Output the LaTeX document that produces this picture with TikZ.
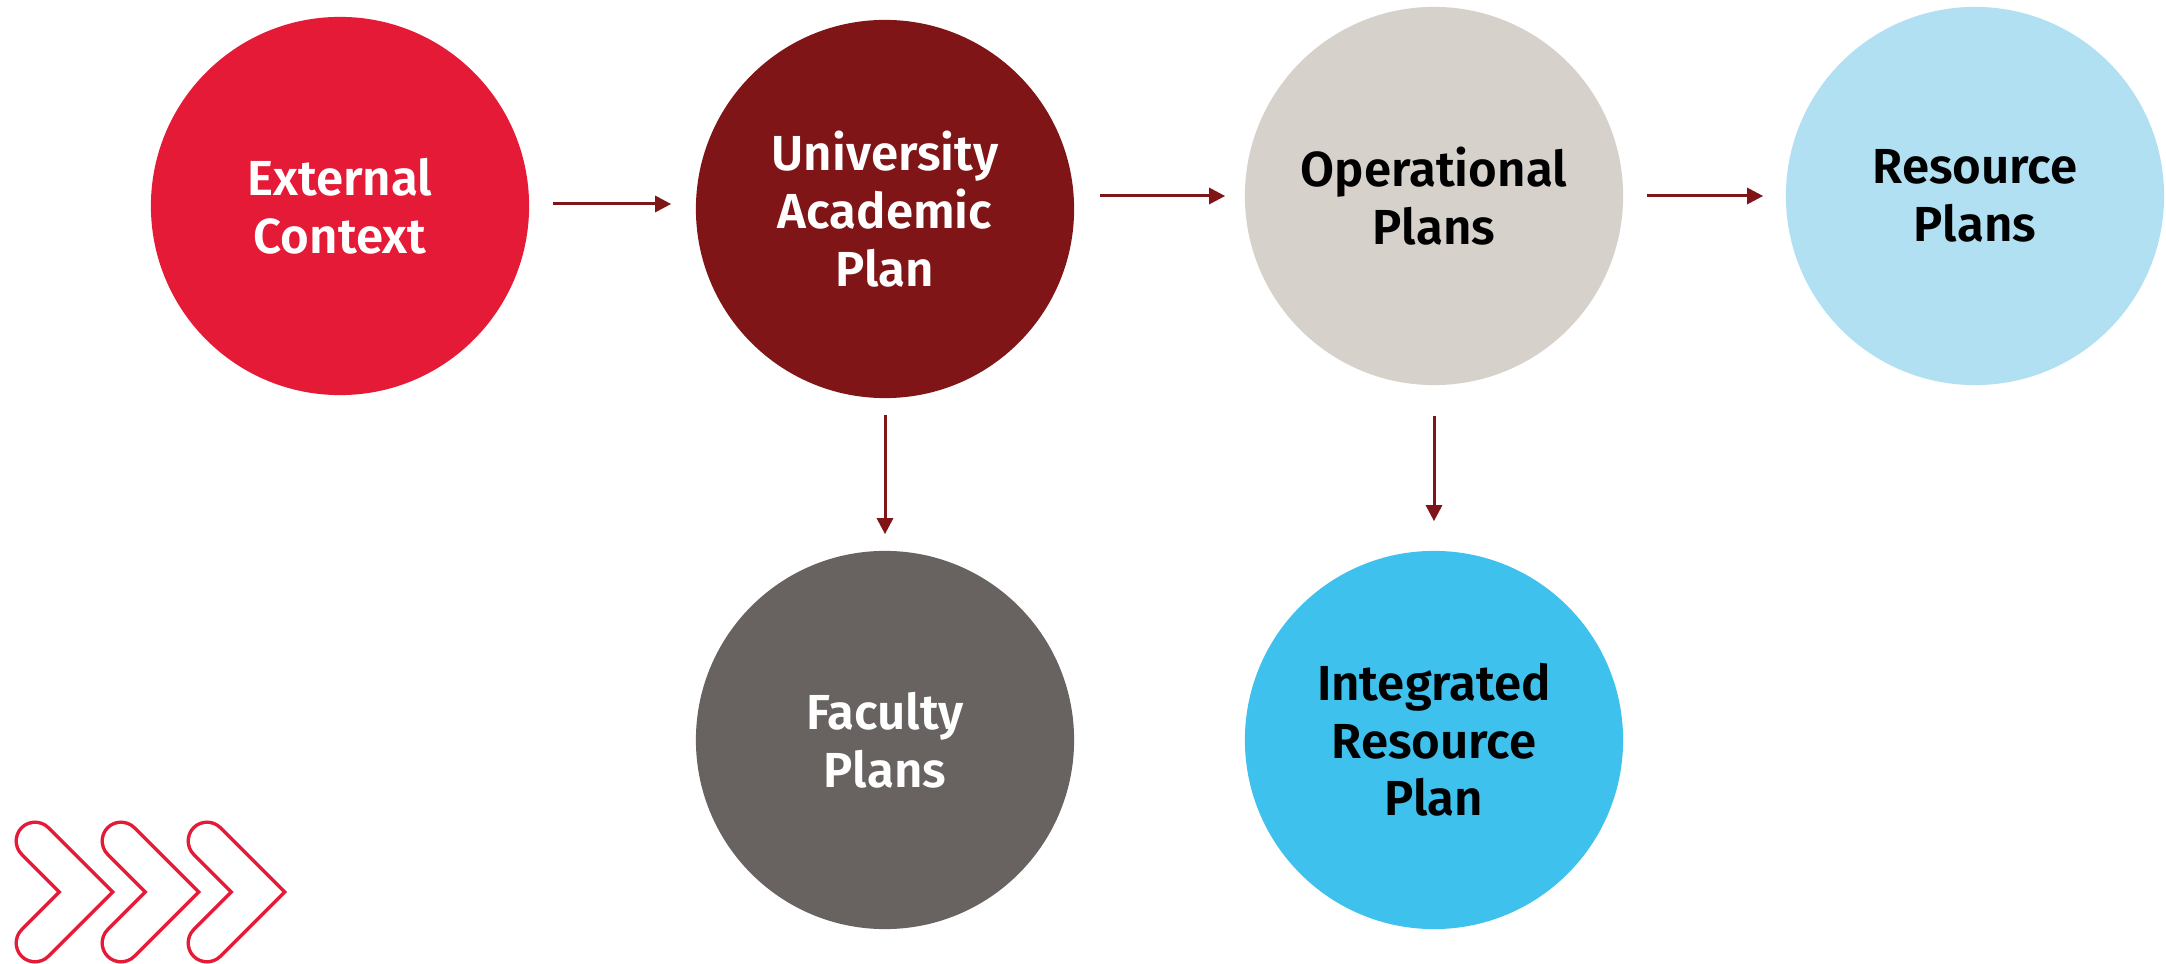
\documentclass[tikz,border=0pt]{standalone}
\usepackage{fontspec}
\setmainfont{Fira Sans}[BoldFont={Fira Sans SemiBold}]
\usetikzlibrary{arrows.meta}
\definecolor{extred}{RGB}{228,26,55}
\definecolor{acadred}{RGB}{127,21,23}
\definecolor{opgray}{RGB}{214,209,203}
\definecolor{resblue}{RGB}{176,224,242}
\definecolor{facgray}{RGB}{104,99,96}
\definecolor{irpblue}{RGB}{63,193,238}

\begin{document}
\begin{tikzpicture}[x=0.01cm,y=-0.01cm]
				\tikzstyle{plan}=[circle,minimum size=3.78cm,inner sep=0pt,align=center,
				font=\fontsize{14}{16.4}\selectfont\bfseries]
				\tikzstyle{link}=[draw=acadred,line width=0.03cm,
				-{Triangle[length=0.16cm,width=0.16cm]}]
				\tikzstyle{chevron}=[draw=extred,double=white,line width=0.035cm,
				double distance=0.34cm,line cap=round,line join=miter]
				\useasboundingbox (0,0) rectangle (2166,964);
				\node[plan,fill=extred,text=white] (ext) at (340,206) {External\\Context};
				\node[plan,fill=acadred,text=white] (uap) at (885,209) {University\\Academic\\Plan};
				\node[plan,fill=opgray] (ops) at (1434,196) {Operational\\Plans};
				\node[plan,fill=resblue] (res) at (1975,196) {Resource\\Plans};
				\node[plan,fill=facgray,text=white] (fac) at (885,740) {Faculty\\Plans};
				\node[plan,fill=irpblue] (irp) at (1434,740) {Integrated\\Resource\\Plan};
				\draw[link,shorten <=0.23cm,shorten >=0.24cm] (ext.east |- 0,204) -- (uap.west |- 0,204);
				\draw[link,shorten <=0.25cm,shorten >=0.19cm] (uap.east |- ops.west) -- (ops.west);
				\draw[link,shorten <=0.23cm,shorten >=0.22cm] (ops.east) -- (res.west);
				\draw[link,shorten <=0.16cm,shorten >=0.16cm] (uap.south) -- (fac.north);
				\draw[link,shorten <=0.30cm,shorten >=0.29cm] (ops.south) -- (irp.north);
				\foreach \i in {0,1,2}
				\draw[chevron] (35+86*\i,841) -- (86+86*\i,892) -- (35+86*\i,943);
\end{tikzpicture}
\end{document}
